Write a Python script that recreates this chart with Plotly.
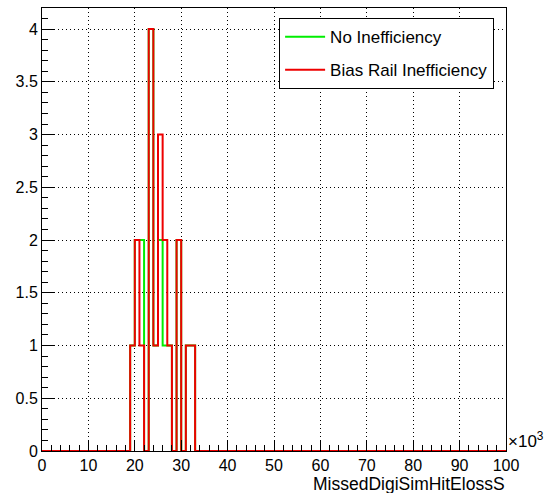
import numpy as np
import plotly.graph_objects as go

# ---- data (x in units of 10^3) ----
x_min, x_max, n_bins = 0, 100, 100
first_bin = 19
no_ineff_counts = [1, 2, 2, 0, 4, 1, 2, 1, 1, 0, 2, 0, 1, 1]
bias_rail_counts = [1, 2, 1, 0, 4, 1, 3, 2, 1, 0, 2, 0, 1, 1]
series_names = ["No Inefficiency", "Bias Rail Inefficiency"]
series_colors = ["#00ee00", "#ee0000"]
x_tick_vals = list(range(0, 101, 10))
y_tick_vals = [0, 0.5, 1, 1.5, 2, 2.5, 3, 3.5, 4]
x_title = "MissedDigiSimHitElossS"

edges = np.linspace(x_min, x_max, n_bins + 1)


def full_hist(counts):
    h = np.zeros(n_bins)
    h[first_bin:first_bin + len(counts)] = counts
    return h


fig = go.Figure()
for name, counts, col in zip(series_names, [no_ineff_counts, bias_rail_counts], series_colors):
    h = full_hist(counts)
    xs = list(edges)
    ys = list(h) + [h[-1]]
    fig.add_trace(go.Scatter(x=xs, y=ys, mode="lines", line=dict(color=col, width=2, shape="hv"),
                             name=name, legendgroup=name))

font = "Liberation Sans, Arial, Helvetica, sans-serif"
ymax = max(max(no_ineff_counts), max(bias_rail_counts)) * 1.05
grid_dash = "1px,3px"

fig.update_layout(
    width=546, height=493,
    margin=dict(l=42, r=40, t=8, b=42),
    paper_bgcolor="white", plot_bgcolor="white",
    font=dict(family=font, size=16, color="black"),
    showlegend=True,
    legend=dict(x=0.511, y=0.977, xanchor="left", yanchor="top",
                bgcolor="white", bordercolor="black", borderwidth=1,
                font=dict(family=font, size=17, color="black"),
                tracegroupgap=8, itemwidth=40),
)
fig.update_xaxes(range=[x_min, x_max], tickvals=x_tick_vals, ticktext=[str(v) for v in x_tick_vals],
                 ticks="inside", ticklen=11, tickcolor="black", showline=True, linecolor="black",
                 linewidth=1, mirror=True, showgrid=True, gridcolor="black", griddash=grid_dash, gridwidth=1,
                 zeroline=False, tickfont=dict(size=16),
                 minor=dict(dtick=2, ticks="inside", ticklen=6, tickcolor="black", showgrid=False))
fig.update_yaxes(range=[0, ymax], tickvals=y_tick_vals, ticktext=[f"{v:g}" for v in y_tick_vals],
                 ticks="inside", ticklen=12, tickcolor="black", showline=True, linecolor="black",
                 linewidth=1, mirror=True, showgrid=True, gridcolor="black", griddash=grid_dash, gridwidth=1,
                 zeroline=False, tickfont=dict(size=16),
                 minor=dict(dtick=0.1, ticks="inside", ticklen=6, tickcolor="black", showgrid=False))

fig.add_annotation(text=x_title, xref="paper", yref="paper", x=1.002, y=-0.075, xanchor="right",
                   yanchor="middle", showarrow=False, font=dict(family=font, size=17.5))
fig.add_annotation(text="×10<sup>3</sup>", xref="paper", yref="paper", x=1.0, y=-0.005, xanchor="left",
                   yanchor="bottom", showarrow=False, font=dict(family=font, size=17))

fig.write_html("out.html")
